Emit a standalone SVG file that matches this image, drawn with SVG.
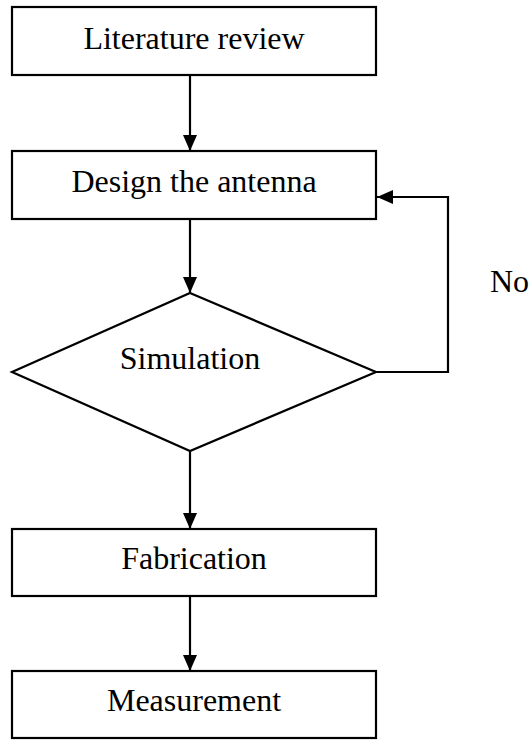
<svg xmlns="http://www.w3.org/2000/svg" width="532" height="740" viewBox="0 0 532 740">
<style>
.box{fill:#fff;stroke:#000;stroke-width:2.2}
.lbl{font-family:"Liberation Serif","Times New Roman",serif;font-size:32px;fill:#000;text-anchor:middle}
.con{fill:none;stroke:#000;stroke-width:2.2}
</style>
<defs>
<marker id="ah" viewBox="0 0 16 14" refX="16" refY="7" markerWidth="16" markerHeight="14" markerUnits="userSpaceOnUse" orient="auto">
<path d="M0,0 L16,7 L0,14 z" fill="#000"/>
</marker>
</defs>
<rect width="532" height="740" fill="#fff"/>
<g id="connectors">
<line class="con" x1="190" y1="75" x2="190" y2="151" marker-end="url(#ah)"/>
<line class="con" x1="190" y1="219" x2="190" y2="293" marker-end="url(#ah)"/>
<line class="con" x1="190" y1="451" x2="190" y2="529" marker-end="url(#ah)"/>
<line class="con" x1="190" y1="596" x2="190" y2="671" marker-end="url(#ah)"/>
<polyline class="con" points="376,372 448,372 448,197 377,197" marker-end="url(#ah)"/>
<text class="lbl" x="490" y="292" style="text-anchor:start">No</text>
</g>
<g id="literature">
<rect class="box" x="12" y="7" width="364" height="68"/>
<text class="lbl" x="194" y="49">Literature review</text>
</g>
<g id="design">
<rect class="box" x="12" y="151" width="364" height="68"/>
<text class="lbl" x="194" y="192">Design the antenna</text>
</g>
<g id="simulation">
<polygon class="box" points="190,293 376,372 190,451 12,372"/>
<text class="lbl" x="190" y="369">Simulation</text>
</g>
<g id="fabrication">
<rect class="box" x="12" y="529" width="364" height="67"/>
<text class="lbl" x="194" y="569">Fabrication</text>
</g>
<g id="measurement">
<rect class="box" x="12" y="671" width="364" height="67"/>
<text class="lbl" x="194" y="711">Measurement</text>
</g>
</svg>
